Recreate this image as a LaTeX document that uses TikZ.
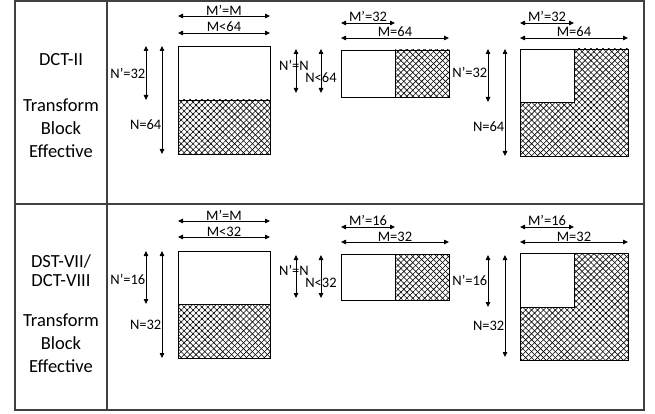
\documentclass[tikz,border=0pt]{standalone}
\usepackage{fontspec}
\setmainfont{Carlito}
\usetikzlibrary{arrows.meta, patterns.meta}

\begin{document}
\begin{tikzpicture}[x=1pt, y=-1pt,
    dim/.style={{Triangle[length=5pt,width=4.5pt]}-{Triangle[length=5pt,width=4.5pt]}, line width=0.8pt},
    blk/.style={draw, line width=0.9pt},
    hatch/.style={pattern={Lines[angle=45,distance=4.2pt,line width=0.6pt]},
                  postaction={pattern={Lines[angle=-45,distance=4.2pt,line width=0.6pt]}}},
    lbl/.style={font=\fontsize{14.5}{17}\selectfont, inner sep=0.5pt},
    head/.style={font=\fontsize{18.5}{23}\selectfont, align=center, inner sep=0pt},
    grid/.style={draw=black!75, line width=1.1pt},
]
\useasboundingbox (0,0) rectangle (655,414);

% table frame
\draw[grid] (15,1) rectangle (644,410);
\draw[grid] (107,1) -- (107,410);
\draw[grid] (15,204) -- (644,204);

% left column
\node[head] (dct)  at (61,60)    {DCT-II};
\node[head] (tbeA) at (61,128)   {Transform\\Block\\Effective};
\node[head] (dst)  at (61,270.5) {DST-VII/\\[-4pt]DCT-VIII};
\node[head] (tbeB) at (61,343)   {Transform\\Block\\Effective};

% ---- DCT-II row ----
% block 1
\path[hatch] (178,100) rectangle (270,154);
\draw[blk] (178,46) rectangle (270,154);
\draw[blk] (178,100) -- (270,100);
\draw[dim] (178,16) -- node[lbl, above] (aMp) {M’=M} (270,16);
\draw[dim] (178,33) -- node[lbl, above] (aM)  {M<64} (270,33);
\draw[dim] (146,46) -- (146,100);
\node[lbl, anchor=east] (aNp) at (146,73) {N’=32};
\draw[dim] (162,46) -- (162,154);
\node[lbl, anchor=east] (aN) at (162,125) {N=64};

% block 2
\path[hatch] (395,50) rectangle (449,97);
\draw[blk] (341,50) rectangle (449,97);
\draw[blk] (395,50) -- (395,97);
\draw[dim] (341,23) -- node[lbl, above] (bMp) {M’=32} (395,23);
\draw[dim] (341,38) -- node[lbl, above] (bM)  {M=64} (449,38);
\draw[dim] (296,49) -- (296,93);
\node[lbl] (bNp) at (294,65) {N’=N};
\draw[dim] (321,49) -- (321,93);
\node[lbl] (bN) at (321,78) {N<64};

% block 3
\path[hatch] (520,49) rectangle (628,156);
\fill[white] (518,46) rectangle (574,102);
\draw[blk] (520,49) rectangle (628,156);
\draw[blk] (520,49) rectangle (574,102);
\draw[dim] (520,23) -- node[lbl, above] (cMp) {M’=32} (574,23);
\draw[dim] (520,38) -- node[lbl, above] (cM)  {M=64} (628,38);
\draw[dim] (488,49) -- (488,102);
\node[lbl, anchor=east] (cNp) at (488,72) {N’=32};
\draw[dim] (505,49) -- (505,156);
\node[lbl, anchor=east] (cN) at (505,127) {N=64};

% ---- DST-VII/DCT-VIII row ----
% block 1
\path[hatch] (178,304) rectangle (270,358);
\draw[blk] (178,251) rectangle (270,358);
\draw[blk] (178,304) -- (270,304);
\draw[dim] (178,221) -- node[lbl, above] (dMp) {M’=M} (270,221);
\draw[dim] (178,237) -- node[lbl, above] (dM)  {M<32} (270,237);
\draw[dim] (146,251) -- (146,304);
\node[lbl, anchor=east] (dNp) at (146,279) {N’=16};
\draw[dim] (162,251) -- (162,358);
\node[lbl, anchor=east] (dN) at (162,325) {N=32};

% block 2
\path[hatch] (395,254) rectangle (449,300);
\draw[blk] (341,254) rectangle (449,300);
\draw[blk] (395,254) -- (395,300);
\draw[dim] (341,227) -- node[lbl, above] (eMp) {M’=16} (395,227);
\draw[dim] (341,242) -- node[lbl, above] (eM)  {M=32} (449,242);
\draw[dim] (296,255) -- (296,298);
\node[lbl] (eNp) at (294,270) {N’=N};
\draw[dim] (321,255) -- (321,298);
\node[lbl] (eN) at (321,283) {N<32};

% block 3
\path[hatch] (520,253) rectangle (628,360);
\fill[white] (518,250) rectangle (574,307);
\draw[blk] (520,253) rectangle (628,360);
\draw[blk] (520,253) rectangle (574,307);
\draw[dim] (520,227) -- node[lbl, above] (fMp) {M’=16} (574,227);
\draw[dim] (520,242) -- node[lbl, above] (fM)  {M=32} (628,242);
\draw[dim] (488,255) -- (488,307);
\node[lbl, anchor=east] (fNp) at (488,280) {N’=16};
\draw[dim] (505,255) -- (505,357);
\node[lbl, anchor=east] (fN) at (505,326) {N=32};
\end{tikzpicture}
\end{document}
